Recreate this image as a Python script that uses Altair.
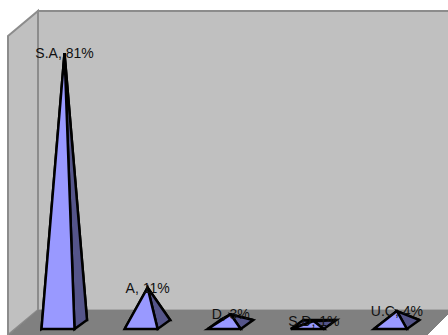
import altair as alt
import pandas as pd

# Survey responses shown as 3D pyramids
categories = ["S.A", "A", "D", "S.D", "U.C"]
percent = [81, 11, 3, 1, 4]

# Chart units: x counts category slots, y is percent above the floor centre line
PX_PER_SLOT = 83.1
PX_PER_PERCENT = 3.35
ORIGIN_X = 64.5
ORIGIN_Y = 324.5
WIDTH, HEIGHT = 448, 335


def ux(p):
    return (p - ORIGIN_X) / PX_PER_SLOT


def uy(p):
    return (ORIGIN_Y - p) / PX_PER_PERCENT


# Room outline, given in canvas offsets and converted to chart units
back_wall = [(38, 11), (449, 11), (449, 310.5), (38, 310.5)]
left_wall = [(8, 36), (38, 11), (38, 310), (8, 335)]
floor = [(38, 310.5), (449, 310.5), (449, 313), (426, 336), (8, 336)]

# Pyramid base corners relative to the apex foot
FRONT_LEFT = (-23 / PX_PER_SLOT, -4.5 / PX_PER_PERCENT)
FRONT_RIGHT = (10 / PX_PER_SLOT, -4.5 / PX_PER_PERCENT)
BACK_RIGHT = (22.5 / PX_PER_SLOT, 4.5 / PX_PER_PERCENT)
BACK_LEFT = (-10.5 / PX_PER_SLOT, 4.5 / PX_PER_PERCENT)


def polygon_rows(name, pts):
    """Describe a convex polygon as x-ordered rows with an upper and lower y."""
    rows = []
    n = len(pts)
    for x in sorted({p[0] for p in pts}):
        hits = []
        for k in range(n):
            (x0, y0), (x1, y1) = pts[k], pts[(k + 1) % n]
            lo, hi = min(x0, x1), max(x0, x1)
            if lo <= x <= hi:
                if x0 == x1:
                    hits += [y0, y1]
                else:
                    hits.append(y0 + (y1 - y0) * (x - x0) / (x1 - x0))
        rows.append({"face": name, "x": x, "y": max(hits), "y2": min(hits)})
    return rows


def faces(corner_a, corner_b, kind):
    rows = []
    for i, (cat, v) in enumerate(zip(categories, percent)):
        a = (i + corner_a[0], corner_a[1])
        b = (i + corner_b[0], corner_b[1])
        rows += polygon_rows(f"{kind}-{cat}", [a, (i, v), b])
    return pd.DataFrame(rows)


x_scale = alt.Scale(domain=[ux(0), ux(WIDTH)], nice=False, zero=False)
y_scale = alt.Scale(domain=[uy(HEIGHT), uy(0)], nice=False, zero=False)


def area_layer(df, fill, stroke, width):
    return (
        alt.Chart(df)
        .mark_area(fill=fill, stroke=stroke, strokeWidth=width, strokeJoin="miter", opacity=1, orient="vertical")
        .encode(
            x=alt.X("x:Q", scale=x_scale, axis=None),
            y=alt.Y("y:Q", scale=y_scale, axis=None),
            y2=alt.Y2("y2:Q"),
            detail="face:N",
        )
    )


def room_part(name, pts):
    return pd.DataFrame(polygon_rows(name, [(ux(a), uy(b)) for a, b in pts]))


WALL = "#c0c0c0"
FLOOR = "#808080"
EDGE = "#8c8c8c"
FRONT = "#9999ff"
SIDE = "#55558a"

labels = pd.DataFrame(
    {
        "x": list(range(len(categories))),
        "y": percent,
        "text": [f"{c}, {v}%" for c, v in zip(categories, percent)],
    }
)

text = (
    alt.Chart(labels)
    .mark_text(font="Liberation Sans", fontSize=14, color="#111111", align="center", baseline="middle", dy=1)
    .encode(
        x=alt.X("x:Q", scale=x_scale, axis=None),
        y=alt.Y("y:Q", scale=y_scale, axis=None),
        text="text:N",
    )
)

chart = alt.layer(
    area_layer(room_part("back", back_wall), WALL, EDGE, 2),
    area_layer(room_part("left", left_wall), WALL, EDGE, 2),
    area_layer(room_part("floor", floor), FLOOR, FLOOR, 1),
    area_layer(faces(FRONT_LEFT, BACK_LEFT, "left"), SIDE, "black", 2.5),
    area_layer(faces(BACK_LEFT, BACK_RIGHT, "rear"), SIDE, "black", 2.5),
    area_layer(faces(FRONT_RIGHT, BACK_RIGHT, "right"), SIDE, "black", 2.5),
    area_layer(faces(FRONT_LEFT, FRONT_RIGHT, "front"), FRONT, "black", 2.5),
    text,
).properties(
    width=WIDTH,
    height=HEIGHT,
    padding=0,
    background="white",
    autosize=alt.AutoSizeParams(type="none"),
).configure_view(stroke=None)

chart.save("out.html", embed_options={"renderer": "svg", "actions": False})
